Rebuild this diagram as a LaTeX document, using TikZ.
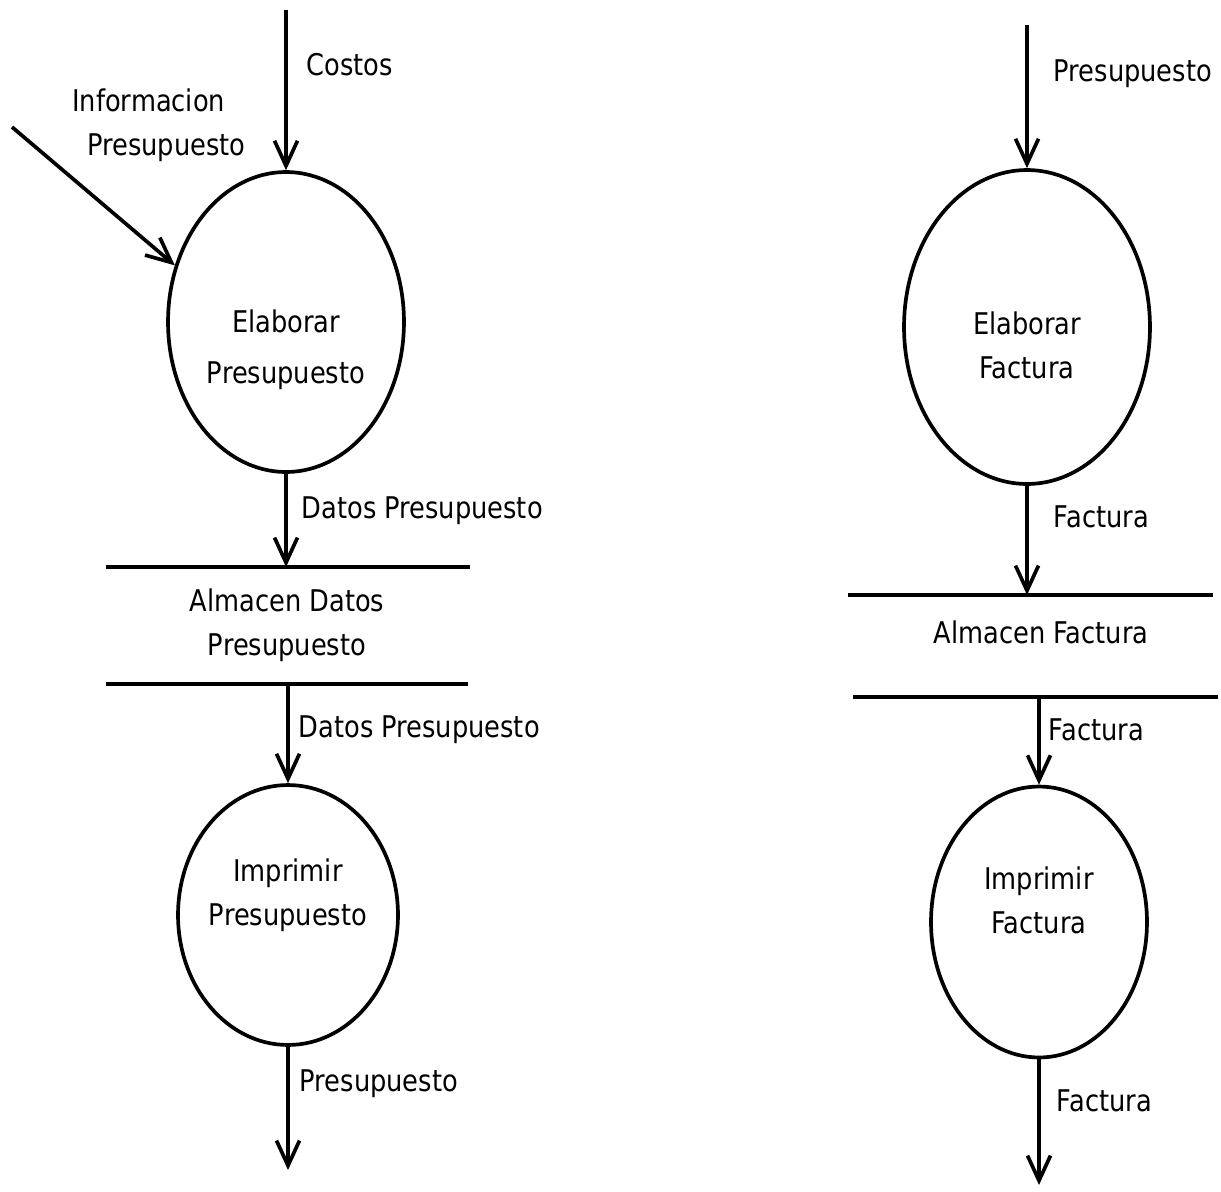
\documentclass[tikz,border=0pt]{standalone}
\usepackage{fontspec}
\setmainfont{DejaVu Sans}[FakeStretch=0.86]
\usetikzlibrary{arrows.meta,shapes.geometric}

\tikzset{
	flow/.style={line width=2.1pt, -{Straight Barb[length=5mm,width=4.6mm]}},
	process/.style={ellipse, draw, line width=2.1pt, inner sep=0pt},
	proctext/.style={align=center, font=\fontsize{17}{25}\selectfont},
	flowlbl/.style={anchor=west, inner sep=0pt, font=\fontsize{17}{25}\selectfont},
	storeline/.style={line width=2.6pt}
}

\begin{document}
\begin{tikzpicture}[x=0.02cm, y=-0.02cm]
	\useasboundingbox (0,0) rectangle (1221,1191);
	% procesos
	\node [process, minimum width=4.72cm, minimum height=6cm,
		label={[proctext, yshift=-0.56cm]center:Elaborar\\[4pt]Presupuesto}] (elabpres) at (286,322) {};
	\node [process, minimum width=4.4cm, minimum height=5.2cm,
		label={[proctext, yshift=0.4cm]center:Imprimir\\Presupuesto}] (imprpres) at (288,915) {};
	\node [process, minimum width=4.92cm, minimum height=6.28cm,
		label={[proctext, yshift=-0.36cm]center:Elaborar\\Factura}] (elabfac) at (1027,327) {};
	\node [process, minimum width=4.32cm, minimum height=5.42cm,
		label={[proctext, yshift=0.44cm]center:Imprimir\\Factura}] (imprfac) at (1039,922) {};
	% almacenes
	\coordinate (datt) at (106,567); \coordinate (datt') at (470,567);
	\coordinate (datb) at (106,684); \coordinate (datb') at (468,684);
	\coordinate (fact) at (848,595); \coordinate (fact') at (1213,595);
	\coordinate (facb) at (853,697); \coordinate (facb') at (1218,697);
	\draw [storeline] (datt) -- (datt');
	\draw [storeline] (datb) -- (datb');
	\draw [storeline] (fact) -- (fact');
	\draw [storeline] (facb) -- (facb');
	\node [proctext] (almdat) at (287,625) {Almacen Datos\\Presupuesto};
	\node [proctext] (almfac) at (1041,632) {Almacen Factura};
	% entradas y salidas
	\coordinate (costin) at (286,10);
	\coordinate (infoin) at (12,127);
	\coordinate (presout) at (288,1170);
	\coordinate (presin) at (1027,25);
	\coordinate (facout) at (1039,1185);
	\node [flowlbl, align=left] (infolbl) at (72,125) {Informacion\\\hspace*{0.3cm}Presupuesto};
	\draw [flow] (infoin) -- (elabpres.153);
	\draw [flow] (costin) -- (elabpres.north) node [flowlbl, pos=.34, xshift=.38cm] (costlbl) {Costos};
	\draw [flow] (elabpres.south) -- (elabpres.south |- datt) node [flowlbl, pos=.4, xshift=.28cm] (dat1lbl) {Datos Presupuesto};
	\draw [flow] (imprpres.north |- datb) -- (imprpres.north) node [flowlbl, pos=.46, xshift=.18cm] (dat2lbl) {Datos Presupuesto};
	\draw [flow] (imprpres.south) -- (imprpres.south |- presout) node [flowlbl, pos=.3, xshift=.2cm] (preslbl) {Presupuesto};
	\draw [flow] (presin) -- (elabfac.north) node [flowlbl, pos=.34, xshift=.5cm] (presinlbl) {Presupuesto};
	\draw [flow] (elabfac.south) -- (elabfac.south |- fact) node [flowlbl, pos=.28, xshift=.5cm] (fac1lbl) {Factura};
	\draw [flow] (imprfac.north |- facb) -- (imprfac.north) node [flowlbl, pos=.37, xshift=.16cm] (fac2lbl) {Factura};
	\draw [flow] (imprfac.south) -- (imprfac.south |- facout) node [flowlbl, pos=.33, xshift=.32cm] (fac3lbl) {Factura};
\end{tikzpicture}
\end{document}
